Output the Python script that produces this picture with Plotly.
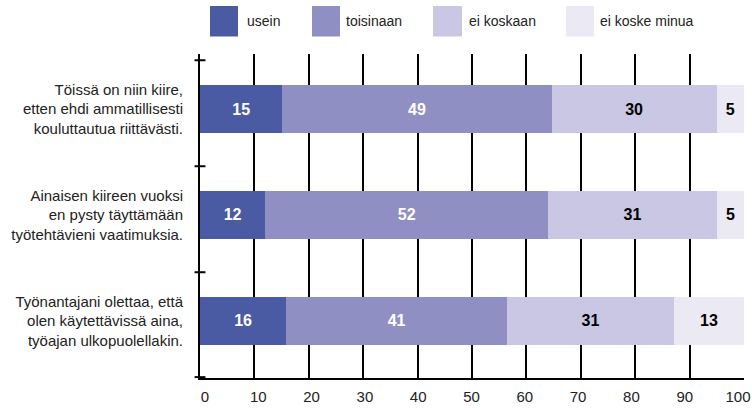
import plotly.graph_objects as go

categories = [
    "Töissä on niin kiire,<br>etten ehdi ammatillisesti<br>kouluttautua riittävästi.",
    "Ainaisen kiireen vuoksi<br>en pysty täyttämään<br>työtehtävieni vaatimuksia.",
    "Työnantajani olettaa, että<br>olen käytettävissä aina,<br>työajan ulkopuolellakin.",
]
series_names = ["usein", "toisinaan", "ei koskaan", "ei koske minua"]
usein = [15, 12, 16]
toisinaan = [49, 52, 41]
ei_koskaan = [30, 31, 31]
ei_koske_minua = [5, 5, 13]
x_ticks = [0, 10, 20, 30, 40, 50, 60, 70, 80, 90, 100]

colors = ["#4a5aa3", "#8f8fc4", "#c9c7e3", "#ebe9f4"]
text_colors = ["white", "white", "black", "black"]
FONT = "Liberation Sans, Arial, sans-serif"

fig = go.Figure()
for name, vals, col, tcol in zip(series_names, [usein, toisinaan, ei_koskaan, ei_koske_minua], colors, text_colors):
    fig.add_trace(go.Bar(
        y=categories, x=vals, name=name, orientation="h",
        marker=dict(color=col, line=dict(width=0)),
        width=0.46,
        text=[str(v) for v in vals], textposition="inside",
        insidetextanchor="middle",
        textfont=dict(family=FONT, size=16, color=tcol, weight="bold"),
        constraintext="none",
        showlegend=False,
    ))

# invisible helper trace so the label axis is drawn
fig.add_trace(go.Scatter(x=[x_ticks[0], x_ticks[-1]], y=[categories[0], categories[0]],
                         xaxis="x2", yaxis="y", mode="none", hoverinfo="skip",
                         showlegend=False))

fig.update_layout(
    barmode="stack", barnorm="percent",
    width=752, height=411,
    margin=dict(l=200, r=8, t=54, b=33),
    plot_bgcolor="white", paper_bgcolor="white",
    font=dict(family=FONT, size=15, color="#222"),
    xaxis=dict(
        range=[0, 100], tickvals=x_ticks, showticklabels=False,
        showgrid=True, gridcolor="black", gridwidth=2,
        showline=True, linecolor="black", linewidth=2,
        ticks="", zeroline=False, automargin=False,
    ),
    # label-only axis, slightly compressed as in the reference labels
    xaxis2=dict(
        overlaying="x", anchor="y", side="bottom",
        range=[-0.938, 101.12], tickvals=x_ticks, ticktext=[str(t) for t in x_ticks],
        showgrid=False, showline=False, zeroline=False, ticks="",
        ticklabelstandoff=8, ticklabeloverflow="allow", automargin=False,
        tickfont=dict(size=15, color="#222"),
    ),
    yaxis=dict(
        categoryorder="array", categoryarray=categories,
        range=[2.538, -0.519],
        showline=True, linecolor="black", linewidth=2,
        ticks="", showgrid=False, ticklabelstandoff=12,
        automargin=False,
        tickfont=dict(size=15, color="#222"),
    ),
)

# cross ticks on the y axis at category boundaries
for yb in [-0.46, 0.54, 1.54, 2.53]:
    fig.add_shape(type="line", xref="paper", yref="y", x0=-0.01, x1=0.01, y0=yb, y1=yb,
                  line=dict(color="black", width=2), layer="above")

# manual legend with large swatches
legend_items = [
    (210, 238, 245),
    (312, 340, 344),
    (433, 462, 467),
    (566, 594, 598),
]
pw = 544.0
ph = 324.0
for (xa, xb, xt), name, col in zip(legend_items, series_names, colors):
    fig.add_shape(type="rect", xref="paper", yref="paper",
                  x0=(xa - 200) / pw, x1=(xb - 200) / pw,
                  y0=(378 - 36.5) / ph, y1=(378 - 6) / ph,
                  fillcolor=col, line=dict(width=0))
    fig.add_annotation(xref="paper", yref="paper", x=(xt - 200) / pw, y=(378 - 21) / ph,
                       text=name, showarrow=False, xanchor="left", yanchor="middle",
                       font=dict(family=FONT, size=14, color="#222"))

fig.write_html("out.html", config={"displayModeBar": False},
               post_script="document.body.style.margin='0px';document.body.style.overflow='hidden';")
